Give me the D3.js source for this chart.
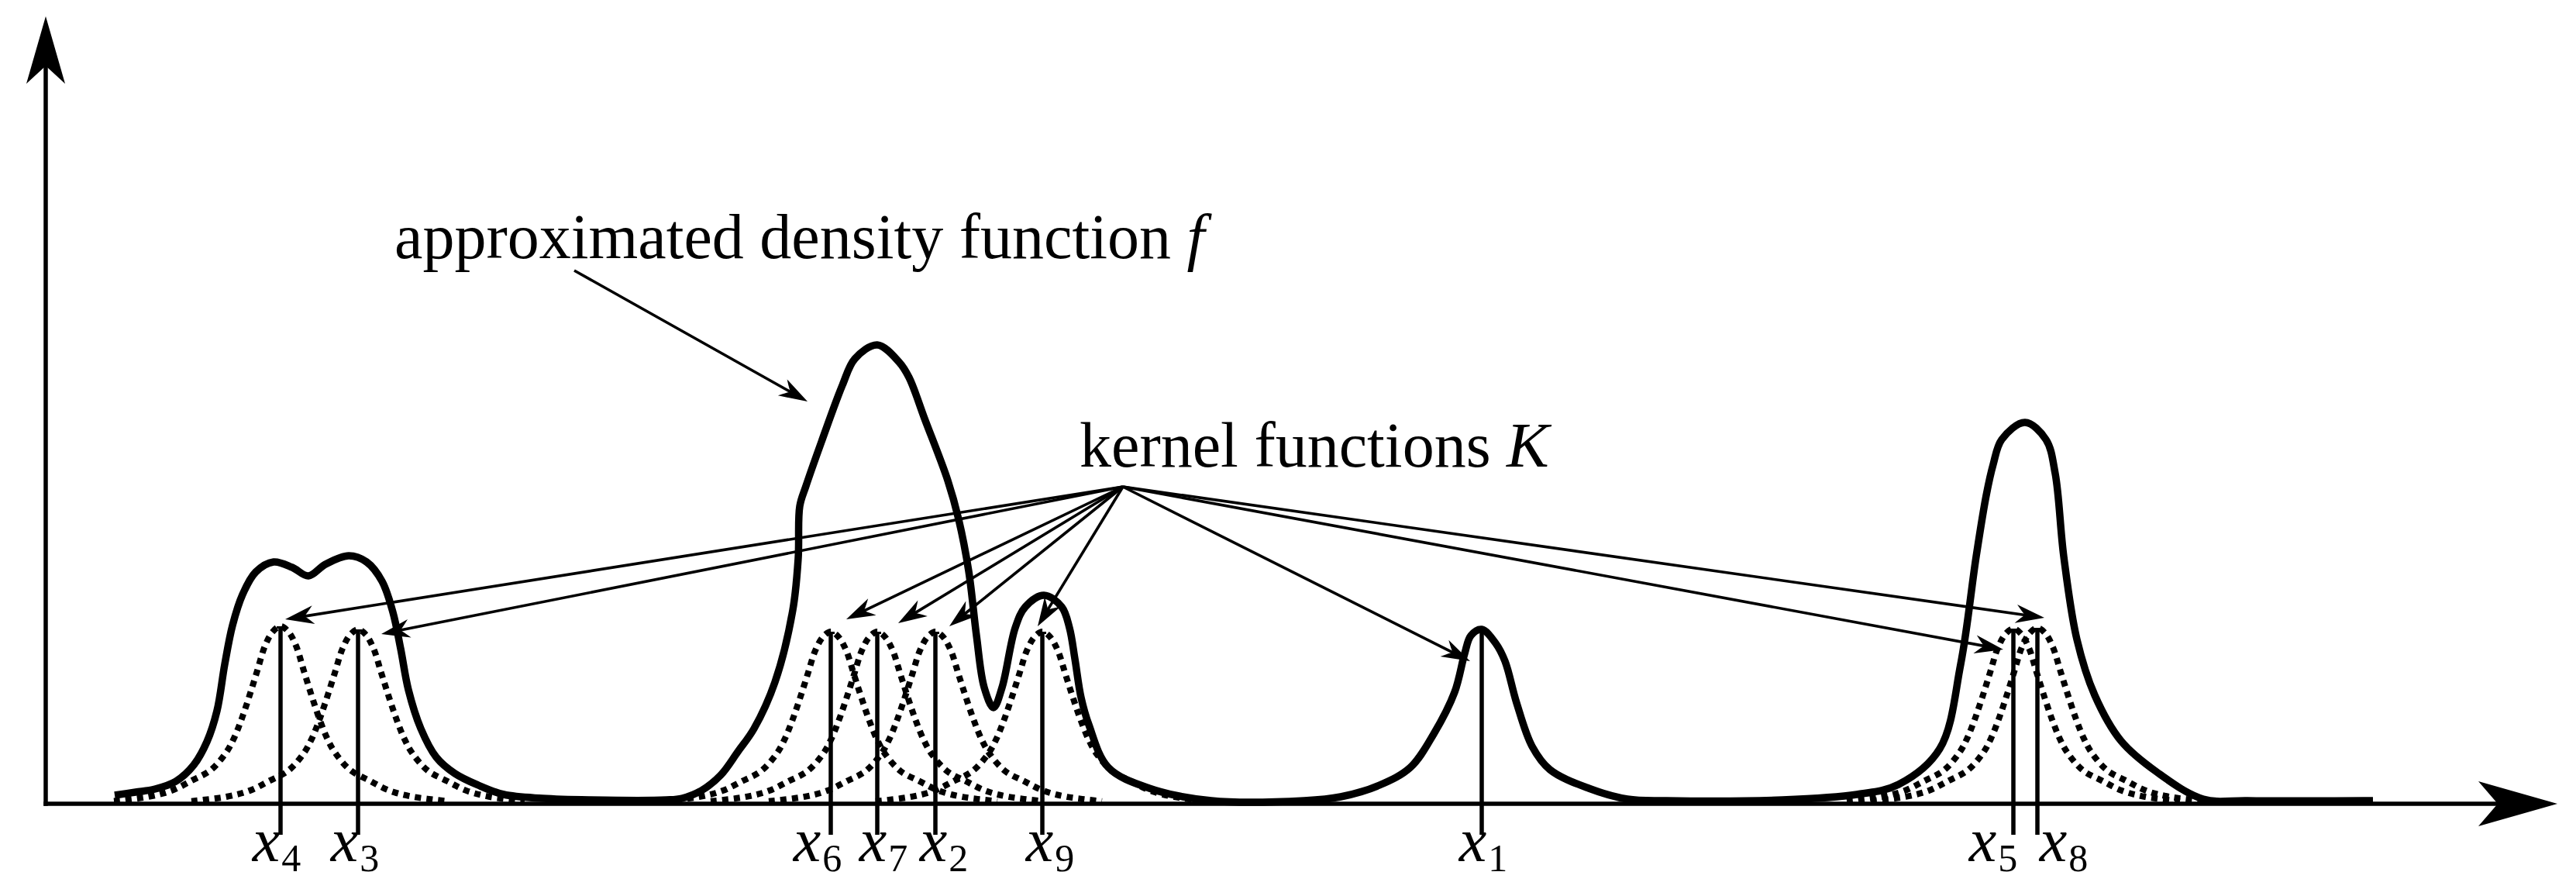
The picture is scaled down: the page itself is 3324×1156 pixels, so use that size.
<!DOCTYPE html>
<html><head><meta charset="utf-8">
<script src="https://cdn.jsdelivr.net/npm/d3@7"></script>
<style>
html,body{margin:0;padding:0;background:#fff;}
svg{display:block;background:#fff;}
text{font-family:"Liberation Serif","DejaVu Serif",serif;fill:#000;}
</style></head><body>
<svg id="chart" width="3324" height="1156"></svg>
<script>
// ===== DATA (chart units) =====
// approximated density f: sample points
const densityX = [8.9, 11.6, 14.1, 16.8, 19.1, 20.8, 22.1, 23.1, 24.1, 25.4, 27.1, 29.4, 31.8, 33.9, 36.1, 39.1, 41.4, 43.4, 44.8, 45.8, 46.8, 48.4, 50.4, 52.8, 55.8, 59.1, 64.1, 70.1, 80.1, 82.1, 84.6, 87.1, 89.3, 91.4, 94.1, 96.4, 97.1, 97.3, 98.1, 100.1, 102.8, 104.4, 107.3, 110.1, 111.4, 113.4, 116.4, 117.8, 119.1, 120.1, 121.1, 122.3, 123.4, 125.1, 126.4, 128.8, 131.1, 132.1, 132.8, 133.6, 134.6, 137.1, 142.4, 150.4, 162.4, 167.1, 172.1, 176.1, 179.1, 181.8, 183.1, 183.9, 185.3, 187.1, 188.3, 189.8, 191.8, 194.1, 199.1, 204.1, 209.1, 224.1, 233.7, 239.1, 244.4, 247.1, 249.1, 250.4, 251.3, 252.4, 255.4, 258.1, 259.3, 260.4, 262.1, 264.4, 267.8, 272.4, 278.4, 284.1, 300.3];
const densityY = [1.1, 1.5, 1.9, 2.9, 5.0, 8.0, 12.0, 18.0, 23.0, 27.0, 29.9, 31.2, 30.5, 29.4, 30.9, 32.0, 31.2, 28.7, 24.7, 20.0, 14.7, 9.7, 6.0, 3.9, 2.4, 1.2, 0.7, 0.5, 0.5, 0.7, 1.7, 3.7, 6.7, 9.7, 15.7, 25.0, 31.7, 38.4, 41.0, 46.7, 54.0, 57.4, 59.2, 57.0, 55.0, 49.7, 41.7, 36.7, 30.0, 21.7, 15.0, 12.4, 15.0, 22.7, 25.4, 26.9, 25.4, 22.7, 18.7, 13.7, 10.2, 4.7, 2.0, 0.4, 0.4, 0.9, 2.4, 4.7, 9.0, 14.4, 19.4, 21.7, 22.5, 20.7, 18.4, 13.0, 7.4, 4.4, 2.0, 0.6, 0.4, 0.5, 1.2, 2.5, 7.1, 18.0, 31.9, 39.8, 43.8, 47.0, 49.2, 47.0, 42.6, 31.9, 21.2, 14.0, 8.1, 4.1, 0.6, 0.4, 0.4];

// sample points x_i and their kernels K
const kernelNames   = ["4", "3", "6", "7", "2", "9", "1", "5", "8"];
const kernelCenters = [30.3, 40.3, 101.3, 107.3, 114.8, 128.6, 185.3, 253.9, 257.0];
const kernelPeaks   = [22.9, 22.5, 22.2, 22.2, 22.2, 22.2, 22.5, 22.6, 22.7];
const kernelDotted  = [true, true, true, true, true, true, false, true, true];
// shape of one kernel: distance from centre -> share of peak
const kernelProfileOffset = [0, 1.0, 2.0, 3.0, 4.0, 5.0, 6.0, 7.0, 9.0, 11.5, 14.0, 17.0, 21.5];
const kernelProfileRatio  = [1.0, 0.97, 0.89, 0.75, 0.61, 0.48, 0.37, 0.29, 0.19, 0.13, 0.075, 0.04, 0.015];

// annotation arrows "kernel functions K" -> each kernel (tip points)
const arrowTipX = [30.9, 43.3, 103.3, 110.0, 116.6, 128.0, 183.8, 252.6, 257.9];
const arrowTipY = [23.8, 21.9, 23.8, 23.3, 22.9, 22.9, 18.4, 19.9, 24.0];
const kernelArrowFrom = [139.0, 40.9];
const densityArrowFrom = [68.2, 68.8];
const densityArrowTo = [98.3, 51.9];

const densityLabel = ["approximated density function ", "f"];
const kernelLabel = ["kernel functions ", "K"];

// ===== LAYOUT =====
const W = 3324, H = 1156;
const layout = {
  xRange: [59, 3300], yRange: [1037, 21],
  xDomain: [0, 324.1], yDomain: [0, 101.6],
  densityLabelPos: [45.0, 70.4], kernelLabelPos: [133.4, 43.5],
  labelFont: 82, tickFont: 80, subFont: 50,
  labelNudge: [-5, -4, -17, 8, 11, 10, 2, -26, 34],
  stemBottom: -4.0, labelBaseline: -7.4
};

const svg = d3.select("#chart");
svg.append("rect").attr("width", W).attr("height", H).attr("fill", "#fff");
const x = d3.scaleLinear().domain(layout.xDomain).range(layout.xRange);
const y = d3.scaleLinear().domain(layout.yDomain).range(layout.yRange);

// ---- axes ----
const x0 = x(0), y0 = y(0);
const xTip = x(layout.xDomain[1]), yTip = y(layout.yDomain[1]);
svg.append("line").attr("x1", x0).attr("y1", y0 + 2.75).attr("x2", x0).attr("y2", yTip + 64)
  .attr("stroke", "#000").attr("stroke-width", 5.5);
svg.append("line").attr("x1", x0 - 2.75).attr("y1", y0).attr("x2", xTip - 77).attr("y2", y0)
  .attr("stroke", "#000").attr("stroke-width", 5.5);
svg.append("path").attr("d", `M${x0},${yTip} L${x0 + 25},${yTip + 87} L${x0},${yTip + 64} L${x0 - 25},${yTip + 87} Z`).attr("fill", "#000");
svg.append("path").attr("d", `M${xTip},${y0} L${xTip - 102},${y0 - 29} L${xTip - 77},${y0} L${xTip - 102},${y0 + 29} Z`).attr("fill", "#000");

// ---- kernels (dotted) ----
const kernelLine = d3.line().x(d => x(d[0])).y(d => y(d[1])).curve(d3.curveCatmullRom.alpha(0.5));
kernelCenters.forEach((c, i) => {
  if (!kernelDotted[i]) return;
  const pts = [];
  for (let k = kernelProfileOffset.length - 1; k > 0; k--) pts.push([c - kernelProfileOffset[k], kernelPeaks[i] * kernelProfileRatio[k]]);
  for (let k = 0; k < kernelProfileOffset.length; k++) pts.push([c + kernelProfileOffset[k], kernelPeaks[i] * kernelProfileRatio[k]]);
  svg.append("path").attr("d", kernelLine(pts)).attr("fill", "none")
    .attr("stroke", "#000").attr("stroke-width", 8).attr("stroke-dasharray", "8 7");
});

// ---- density f ----
const densityLine = d3.line().x(d => x(d[0])).y(d => y(d[1])).curve(d3.curveCatmullRom.alpha(0.5));
svg.append("path").attr("d", densityLine(densityX.map((v, i) => [v, densityY[i]])))
  .attr("fill", "none").attr("stroke", "#000").attr("stroke-width", 9.5)
  .attr("stroke-linejoin", "round");

// ---- kernel stems ----
kernelCenters.forEach((c, i) => {
  svg.append("line").attr("x1", x(c)).attr("x2", x(c)).attr("y1", y(kernelPeaks[i])).attr("y2", y(layout.stemBottom))
    .attr("stroke", "#000").attr("stroke-width", 5.5);
  svg.append("line").attr("x1", x(c) - 5).attr("x2", x(c) + 5).attr("y1", y(kernelPeaks[i]) + 1.5).attr("y2", y(kernelPeaks[i]) + 1.5)
    .attr("stroke", "#000").attr("stroke-width", 3);
});

// ---- stem labels ----
kernelCenters.forEach((c, i) => {
  const t = svg.append("text").attr("x", x(c) + layout.labelNudge[i]).attr("y", y(layout.labelBaseline))
    .attr("text-anchor", "middle");
  t.append("tspan").attr("font-style", "italic").attr("font-size", layout.tickFont).text("x");
  t.append("tspan").attr("font-size", layout.subFont).attr("dx", 2).attr("dy", 13).text(kernelNames[i]);
});

// ---- annotation arrows ----
function arrow(fx, fy, tx, ty) {
  const ax = x(fx), ay = y(fy), bx = x(tx), by = y(ty);
  const ang = Math.atan2(by - ay, bx - ax);
  const ex = bx - Math.cos(ang) * 20, ey = by - Math.sin(ang) * 20;
  svg.append("line").attr("x1", ax).attr("y1", ay).attr("x2", ex).attr("y2", ey)
    .attr("stroke", "#000").attr("stroke-width", 3.6);
  svg.append("path").attr("d", "M0,0 L-37,-12 Q-28,-2 -25,0 Q-28,2 -37,12 Z")
    .attr("transform", `translate(${bx},${by}) rotate(${ang * 180 / Math.PI})`).attr("fill", "#000");
}
arrowTipX.forEach((tx, i) => arrow(kernelArrowFrom[0], kernelArrowFrom[1], tx, arrowTipY[i]));
arrow(densityArrowFrom[0], densityArrowFrom[1], densityArrowTo[0], densityArrowTo[1]);

// ---- text labels ----
function label(pos, parts) {
  const t = svg.append("text").attr("x", x(pos[0])).attr("y", y(pos[1])).attr("font-size", layout.labelFont);
  t.append("tspan").text(parts[0]);
  t.append("tspan").attr("font-style", "italic").text(parts[1]);
}
label(layout.densityLabelPos, densityLabel);
label(layout.kernelLabelPos, kernelLabel);
</script>
</body></html>
